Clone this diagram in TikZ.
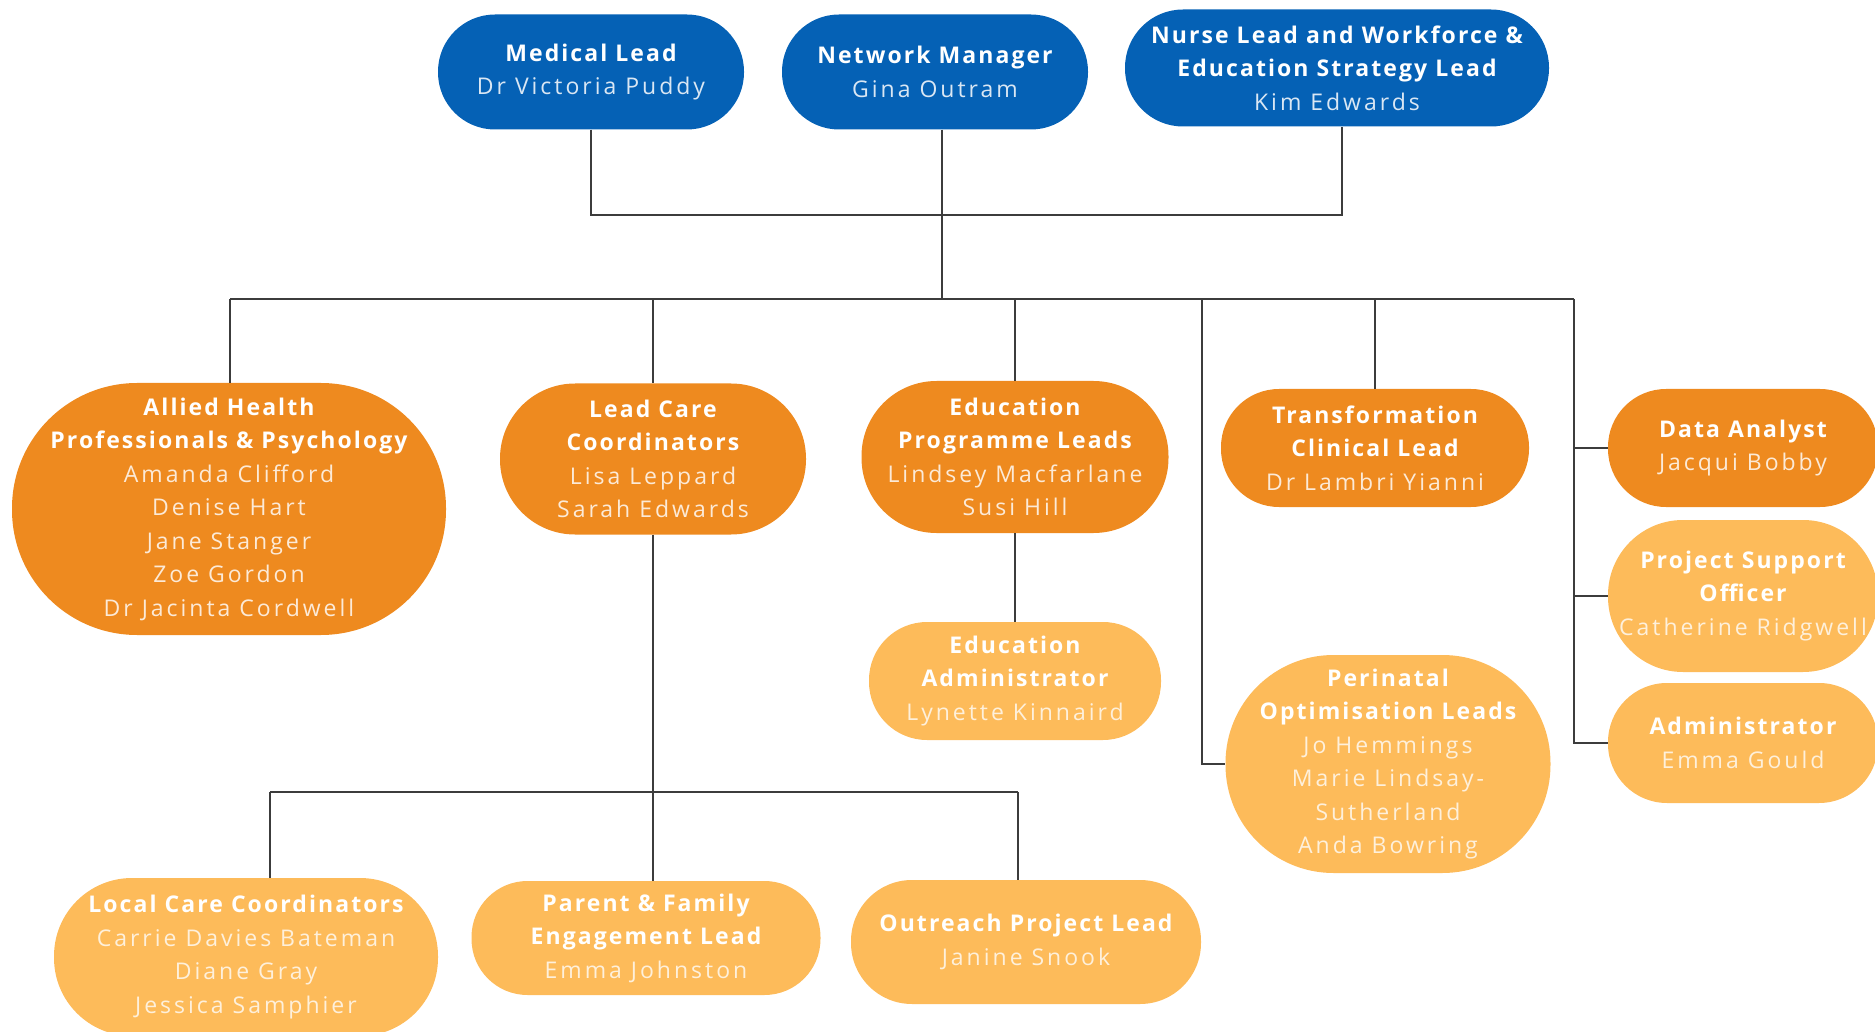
\documentclass[tikz,border=0pt]{standalone}
\usepackage{fontspec}
\setmainfont{Open Sans}[LetterSpace=9]
\newfontfamily\namefont[LetterSpace=13]{Open Sans}
\definecolor{cblue}{HTML}{0561B5}
\definecolor{cdark}{HTML}{EE8A1F}
\definecolor{clight}{HTML}{FDBB5A}
\definecolor{cline}{HTML}{3C3C3C}
\newcommand\ttl[1]{{\bfseries #1}}
\tikzset{
  orgbox/.style n args={3}{rectangle, minimum width=#1, minimum height=#2, rounded corners=#3,
    inner sep=0pt, align=center, text=white, font=\fontsize{23}{33.5}\selectfont},
  bluebox/.style={fill=cblue},
  darkbox/.style={fill=cdark},
  lightbox/.style={fill=clight},
  conn/.style={draw=cline, line width=2pt},
}
\newcommand\nmb[1]{{\namefont\color{white!85!cblue}#1}}
\newcommand\nmd[1]{{\namefont\color{white!82!cdark}#1}}
\newcommand\nml[1]{{\namefont\color{white!78!clight}#1}}
\begin{document}
\begin{tikzpicture}[x=1pt,y=-1pt]
\useasboundingbox (0,0) rectangle (1875,1032);
\clip (0,0) rectangle (1875,1032);
% top row
\node[orgbox={306}{115}{57}, bluebox] (med) at (591,72) {\ttl{Medical Lead}\\\nmb{Dr Victoria Puddy}};
\node[orgbox={306}{115}{57}, bluebox] (net) at (935,72) {\ttl{Network Manager}\\\nmb{Gina Outram}};
\node[orgbox={424}{117}{58}, bluebox] (nurse) at (1337,68) {\ttl{Nurse Lead and Workforce \&}\\\ttl{Education Strategy Lead}\\\nmb{Kim Edwards}};
% second row
\node[orgbox={434}{252}{125}, darkbox] (ahp) at (229,509) {\ttl{Allied Health}\\\ttl{Professionals \& Psychology}\\\nmd{Amanda Clifford}\\\nmd{Denise Hart}\\\nmd{Jane Stanger}\\\nmd{Zoe Gordon}\\\nmd{Dr Jacinta Cordwell}};
\node[orgbox={306}{151}{75}, darkbox] (lcc) at (653,459) {\ttl{Lead Care}\\\ttl{Coordinators}\\\nmd{Lisa Leppard}\\\nmd{Sarah Edwards}};
\node[orgbox={307}{152}{75}, darkbox] (epl) at (1015,457) {\ttl{Education}\\\ttl{Programme Leads}\\\nmd{Lindsey Macfarlane}\\\nmd{Susi Hill}};
\node[orgbox={308}{118}{58}, darkbox] (tcl) at (1375,448) {\ttl{Transformation}\\\ttl{Clinical Lead}\\\nmd{Dr Lambri Yianni}};
\node[orgbox={270}{118}{58}, darkbox] (data) at (1743,448) {\ttl{Data Analyst}\\\nmd{Jacqui Bobby}};
% light boxes
\node[orgbox={270}{152}{75}, lightbox] (pso) at (1743,596) {\ttl{Project Support}\\\ttl{Officer}\\\nml{Catherine Ridgwell}};
\node[orgbox={270}{120}{59}, lightbox] (adm) at (1743,743) {\ttl{Administrator}\\\nml{Emma Gould}};
\node[orgbox={292}{118}{58}, lightbox] (eda) at (1015,681) {\ttl{Education}\\\ttl{Administrator}\\\nml{Lynette Kinnaird}};
\node[orgbox={325}{218}{108}, lightbox] (pol) at (1388,764) {\ttl{Perinatal}\\\ttl{Optimisation Leads}\\\nml{Jo Hemmings}\\\nml{Marie Lindsay-}\\\nml{Sutherland}\\\nml{Anda Bowring}};
\node[orgbox={384}{158}{78}, lightbox] (loc) at (246,957) {\ttl{Local Care Coordinators}\\\nml{Carrie Davies Bateman}\\\nml{Diane Gray}\\\nml{Jessica Samphier}};
\node[orgbox={349}{114}{56}, lightbox] (pfe) at (646,938) {\ttl{Parent \& Family}\\\ttl{Engagement Lead}\\\nml{Emma Johnston}};
\node[orgbox={350}{124}{61}, lightbox] (opl) at (1026,942) {\ttl{Outreach Project Lead}\\\nml{Janine Snook}};
% junction coordinates
\coordinate (topbar) at (942,215);
\coordinate (nursedrop) at (1342,215);
\coordinate (busL) at (230,299);
\coordinate (busR) at (1574,299);
\coordinate (busP) at (1202,299);
\coordinate (lbusL) at (270,792);
\coordinate (lbusR) at (1018,792);
% connectors
\draw[conn] (med.south) |- (nursedrop) -- (nursedrop |- nurse.south);
\draw[conn] (topbar |- net.south) -- (topbar |- busL);
\draw[conn] (busL) -- (busR);
\draw[conn] (busL) -- (busL |- ahp.north);
\draw[conn] (lcc.north |- busL) -- (lcc.north);
\draw[conn] (epl.north |- busL) -- (epl.north);
\draw[conn] (tcl.north |- busL) -- (tcl.north);
\draw[conn] (busP) |- (pol.west);
\draw[conn] (busR) |- (adm.west);
\draw[conn] (busR |- data.west) -- (data.west);
\draw[conn] (busR |- pso.west) -- (pso.west);
\draw[conn] (epl.south) -- (eda.north);
\draw[conn] (lcc.south) -- (lcc.south |- pfe.north);
\draw[conn] (lbusL) -- (lbusR);
\draw[conn] (lbusL) -- (lbusL |- loc.north);
\draw[conn] (lbusR) -- (lbusR |- opl.north);
\end{tikzpicture}
\end{document}
